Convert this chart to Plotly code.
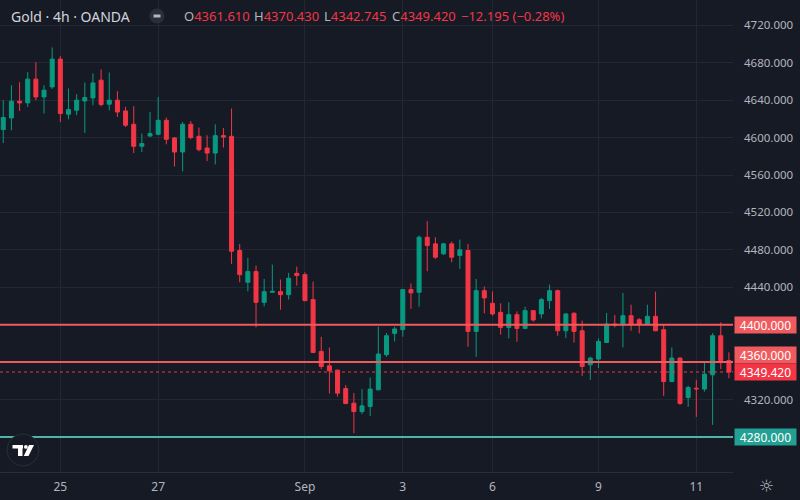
import plotly.graph_objects as go

# 4h candles, oldest first
opens = [4608.6, 4621.0, 4638.9, 4637.1, 4662.5, 4643.5, 4654.2, 4683.9, 4625.0, 4629.2,
         4639.2, 4642.4, 4661.4, 4635.7, 4640.0, 4628.5, 4614.2, 4590.7, 4601.7, 4603.5,
         4618.5, 4599.6, 4584.6, 4614.2, 4601.4, 4588.9, 4583.5, 4602.1, 4601.4, 4479.3,
         4445.3, 4456.8, 4423.9, 4434.6, 4435.3, 4432.1, 4454.9, 4453.5, 4426.8, 4371.4,
         4356.0, 4351.4, 4331.7, 4316.1, 4307.1, 4312.5, 4330.3, 4367.9, 4390.7, 4394.6,
         4437.5, 4434.6, 4493.5, 4486.4, 4475.7, 4486.4, 4474.0, 4479.3, 4392.8, 4436.4,
         4422.8, 4413.2, 4397.1, 4410.7, 4396.0, 4415.0, 4411.5, 4425.7, 4436.4, 4393.5,
         4412.2, 4393.5, 4357.1, 4363.2, 4381.0, 4400.7, 4399.7, 4409.6, 4405.3, 4400.7,
         4408.9, 4394.6, 4339.2, 4364.3, 4322.1, 4332.1, 4331.1, 4346.4, 4388.2, 4361.61]
highs = [4640.0, 4656.0, 4659.2, 4670.0, 4680.7, 4656.0, 4696.4, 4687.1, 4652.5, 4646.4,
         4658.9, 4668.6, 4672.9, 4669.6, 4649.6, 4632.8, 4633.5, 4604.3, 4627.4, 4643.5,
         4621.4, 4600.6, 4616.7, 4617.8, 4610.7, 4602.5, 4614.2, 4610.3, 4631.1, 4486.4,
         4471.4, 4463.2, 4448.9, 4464.2, 4448.2, 4455.4, 4462.1, 4456.0, 4446.0, 4387.1,
         4375.6, 4352.0, 4335.4, 4326.8, 4331.1, 4343.5, 4397.8, 4391.1, 4397.8, 4438.2,
         4444.2, 4495.3, 4510.6, 4493.5, 4487.5, 4488.9, 4491.0, 4486.4, 4448.9, 4440.7,
         4435.6, 4422.8, 4423.9, 4414.2, 4419.2, 4415.5, 4428.6, 4442.8, 4437.5, 4412.0,
         4413.2, 4404.3, 4365.7, 4385.3, 4412.5, 4410.4, 4433.9, 4421.4, 4407.1, 4421.4,
         4435.3, 4399.7, 4375.7, 4365.0, 4334.6, 4341.0, 4360.6, 4391.1, 4402.5, 4370.43]
lows = [4594.2, 4607.8, 4628.5, 4632.8, 4640.0, 4625.7, 4652.0, 4616.7, 4619.6, 4623.9,
        4604.9, 4634.6, 4633.5, 4629.2, 4622.1, 4611.4, 4583.5, 4584.6, 4600.6, 4602.5,
        4592.8, 4569.2, 4563.9, 4598.2, 4585.3, 4574.9, 4571.4, 4589.3, 4465.0, 4445.3,
        4435.6, 4397.1, 4419.6, 4434.4, 4416.0, 4426.8, 4441.8, 4425.0, 4369.5, 4352.5,
        4326.4, 4323.1, 4315.0, 4284.0, 4304.3, 4302.5, 4330.0, 4365.7, 4382.1, 4387.1,
        4416.8, 4419.2, 4457.1, 4470.4, 4474.6, 4466.7, 4459.6, 4376.4, 4365.7, 4412.1,
        4409.6, 4389.3, 4385.3, 4381.8, 4395.5, 4403.2, 4406.7, 4416.8, 4388.2, 4385.7,
        4381.0, 4345.3, 4341.0, 4353.6, 4380.5, 4397.1, 4375.7, 4393.5, 4390.7, 4400.0,
        4393.0, 4323.9, 4338.5, 4314.3, 4312.1, 4301.4, 4328.5, 4292.9, 4352.5, 4342.745]
closes = [4621.5, 4638.9, 4637.1, 4662.5, 4643.5, 4650.7, 4683.9, 4625.7, 4630.0, 4640.0,
          4642.8, 4658.5, 4635.3, 4640.0, 4627.4, 4613.2, 4590.7, 4593.6, 4604.3, 4618.5,
          4598.2, 4584.6, 4614.2, 4600.0, 4587.1, 4583.5, 4602.1, 4600.6, 4478.5, 4453.5,
          4456.8, 4423.9, 4435.3, 4435.6, 4432.1, 4449.6, 4452.5, 4425.7, 4370.3, 4355.3,
          4350.7, 4326.8, 4315.7, 4307.1, 4313.2, 4331.1, 4368.6, 4388.2, 4395.4, 4437.5,
          4434.0, 4493.5, 4484.6, 4472.1, 4486.4, 4472.1, 4480.0, 4392.8, 4436.4, 4428.6,
          4411.5, 4397.1, 4410.7, 4396.0, 4415.0, 4405.0, 4426.8, 4436.4, 4393.5, 4411.5,
          4392.8, 4355.3, 4364.3, 4382.1, 4400.7, 4399.7, 4409.6, 4400.7, 4400.7, 4408.9,
          4393.5, 4339.2, 4364.3, 4315.7, 4332.8, 4331.4, 4347.1, 4388.2, 4361.615, 4349.42]

tick_bars = [7, 19, 37, 49, 60, 73, 85]
tick_labels = ["25", "27", "Sep", "3", "6", "9", "11"]
price_ticks = [4320, 4440, 4480, 4520, 4560, 4600, 4640, 4680, 4720]

red_levels = [4400.0, 4360.0]
green_levels = [4280.0]

BG = "#161A25"
GRID = "#232733"
TXT = "#B2B5BE"
UP = "#089981"
DOWN = "#F23645"
LVL_RED = "#F05A5E"
LVL_GREEN = "#4FB3A9"

bars = list(range(len(opens)))

fig = go.Figure()
fig.add_trace(go.Candlestick(
    x=bars, open=opens, high=highs, low=lows, close=closes,
    increasing=dict(line=dict(color=UP, width=1), fillcolor=UP),
    decreasing=dict(line=dict(color=DOWN, width=1), fillcolor=DOWN),
    hoverinfo="skip",
))

shapes = []
annotations = []


def px_shape(kind, x0, y0, x1, y1, **kw):
    # pixel offsets from the top-left corner of the plot area
    d = dict(type=kind, xref="paper", yref="paper", xsizemode="pixel", ysizemode="pixel",
             xanchor=0, yanchor=1, x0=x0, x1=x1, y0=-y0, y1=-y1)
    d.update(kw)
    return d


def level_label(v, color, yshift=0):
    return dict(xref="paper", yref="y", x=1, y=v, xanchor="left", xshift=1, yshift=yshift,
                text=f"{v:.3f}", showarrow=False, bgcolor=color, width=57, height=12,
                borderpad=2, font=dict(color="#FFFFFF", size=12))


# grid lines at the level prices are hidden under the level lines anyway
for v in red_levels:
    shapes.append(dict(type="line", xref="paper", yref="y", x0=0, x1=1, y0=v, y1=v,
                       line=dict(color=LVL_RED, width=2)))
for v in green_levels:
    shapes.append(dict(type="line", xref="paper", yref="y", x0=0, x1=1, y0=v, y1=v,
                       line=dict(color=LVL_GREEN, width=2)))

last = closes[-1]
shapes.append(dict(type="line", xref="paper", yref="y", x0=0, x1=1, y0=last, y1=last,
                   line=dict(color=DOWN, width=1, dash="dot")))

annotations.append(level_label(red_levels[0], LVL_RED))
annotations.append(level_label(red_levels[1], LVL_RED, yshift=7))
annotations.append(level_label(last, DOWN))
annotations.append(level_label(green_levels[0], "#22A094"))

# header
annotations.append(dict(xref="paper", yref="paper", x=9 / 733, y=1 - 16 / 472,
                        xanchor="left", yanchor="middle", text="Gold · 4h · OANDA",
                        showarrow=False, font=dict(color="#D1D4DC", size=14)))
shapes.append(px_shape("circle", 149.5, 8.5, 164.5, 23.5, fillcolor="#2A2E39", line=dict(width=0)))
shapes.append(px_shape("line", 153.5, 16, 160.5, 16, line=dict(color="#B2B5BE", width=3)))

chg = closes[-1] - closes[-2]
pct = chg / closes[-2] * 100


def tag(letter, value):
    return f'<span style="color:{TXT}">{letter}</span>{value:.3f}'


pieces = [
    (183, tag("O", opens[-1])),
    (253, tag("H", highs[-1])),
    (323, tag("L", lows[-1])),
    (391, tag("C", closes[-1])),
    (460, f"{chg:.3f} ({pct:.2f}%)".replace("-", "−")),
]
for xp, t in pieces:
    annotations.append(dict(xref="paper", yref="paper", x=xp / 733, y=1 - 16 / 472,
                            xanchor="left", yanchor="middle", text=t, showarrow=False,
                            borderpad=0, font=dict(color=DOWN, size=13)))

# logo bottom-left
shapes.append(px_shape("circle", 7, 434, 39, 466, fillcolor=BG, line=dict(color="#2A2E39", width=1)))
shapes.append(px_shape("rect", 12.5, 445, 23, 448.5, fillcolor="#FFFFFF", line=dict(width=0)))
shapes.append(px_shape("rect", 18, 445, 22.5, 456, fillcolor="#FFFFFF", line=dict(width=0)))
shapes.append(px_shape("circle", 24, 445, 27.8, 448.8, fillcolor="#FFFFFF", line=dict(width=0)))
shapes.append(dict(type="path", xref="paper", yref="paper", xsizemode="pixel", ysizemode="pixel",
                   xanchor=0, yanchor=1, path="M 29,-445 L 34,-445 L 28.5,-456 L 23.8,-456 Z",
                   fillcolor="#FFFFFF", line=dict(width=0)))

# settings icon
annotations.append(dict(xref="paper", yref="paper", x=766 / 733, y=1 - 486 / 472,
                        xanchor="center", yanchor="middle", text="☼", showarrow=False,
                        font=dict(color=TXT, size=17, family="DejaVu Sans")))

fig.update_layout(
    width=800, height=500,
    margin=dict(l=0, r=67, t=0, b=28),
    paper_bgcolor=BG, plot_bgcolor=BG,
    showlegend=False,
    font=dict(family="Noto Sans", color=TXT, size=12),
    shapes=shapes, annotations=annotations,
    xaxis=dict(range=[-0.4, 89.5], tickvals=tick_bars, ticktext=tick_labels,
               showgrid=True, gridcolor=GRID, zeroline=False, showline=True,
               linecolor="#2A2E39", ticks="", ticklabelstandoff=4,
               rangeslider=dict(visible=False), tickfont=dict(size=12)),
    yaxis=dict(side="right", range=[4242.5, 4747.1], tickvals=price_ticks,
               tickformat=".3f", showgrid=True, gridcolor=GRID, zeroline=False,
               showline=False, ticks="", ticklabelstandoff=10, tickfont=dict(size=11.5)),
)

# the page body has a default 8px margin; remove it so the chart fills the window
fig.write_html("out.html", config={"displayModeBar": False},
               post_script=f"document.body.style.margin='0';document.body.style.background='{BG}';")
